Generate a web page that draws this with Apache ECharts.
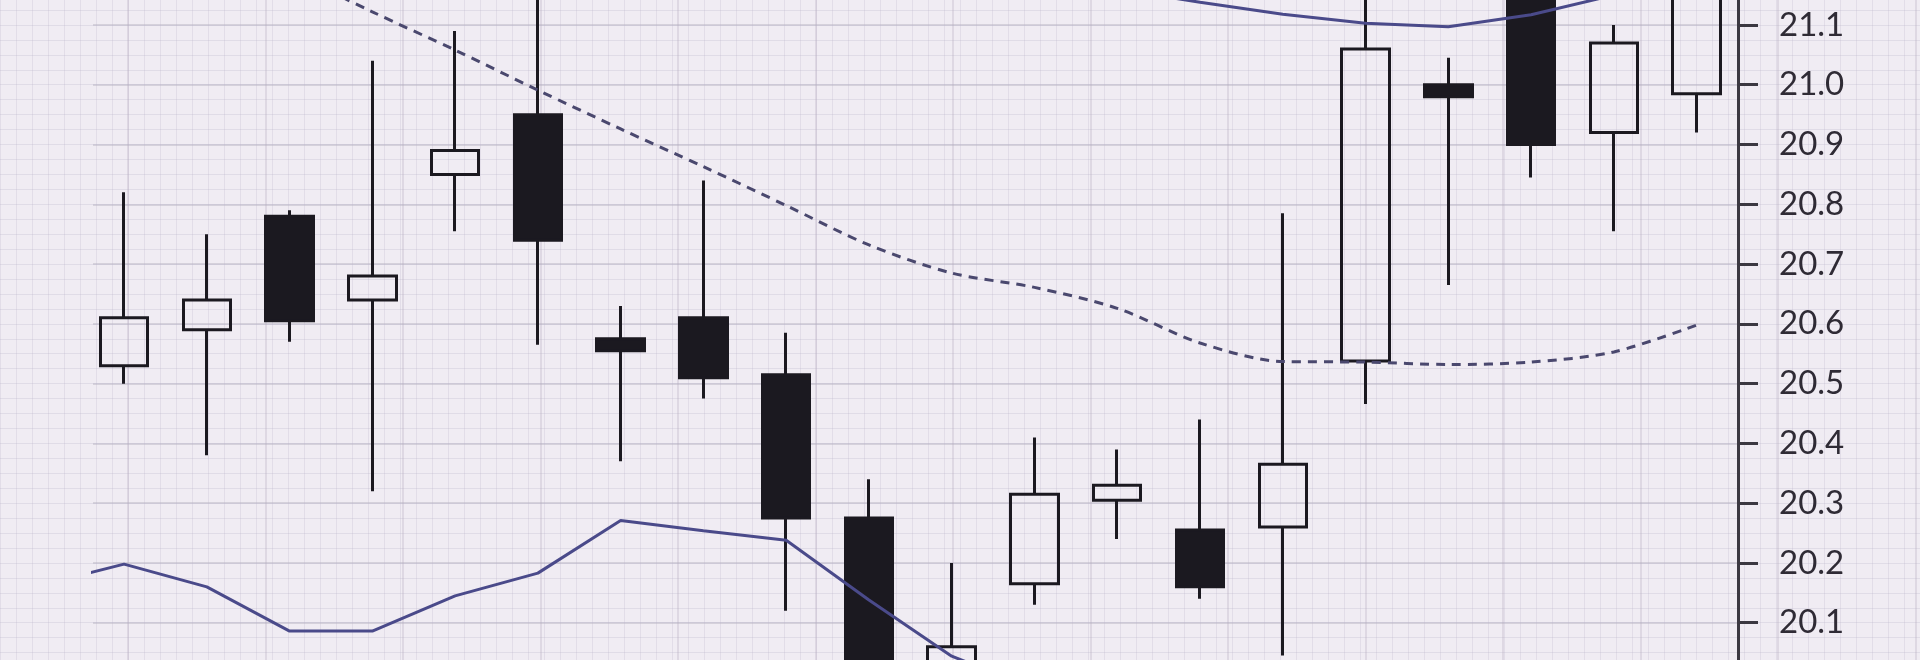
<!DOCTYPE html>
<html>
<head>
<meta charset="utf-8">
<script src="https://cdn.jsdelivr.net/npm/echarts@6/dist/echarts.min.js"></script>
<style>
html,body{margin:0;padding:0;background:#f0ecf3;}
#chart{width:1920px;height:660px;}
</style>
</head>
<body>
<div id="chart"></div>
<script>
// ---- data ----
const categories = ['D1','D2','D3','D4','D5','D6','D7','D8','D9','D10','D11','D12','D13','D14','D15','D16','D17','D18','D19','D20'];
const opens  = [20.53, 20.59, 20.78, 20.64, 20.85, 20.95, 20.575, 20.61, 20.515, 20.275, 19.98, 20.165, 20.305, 20.255, 20.26, 20.538, 21.00, 21.16, 20.92, 20.985];
const closes = [20.61, 20.64, 20.605, 20.68, 20.89, 20.74, 20.555, 20.51, 20.275, 19.98, 20.06, 20.315, 20.33, 20.16, 20.365, 21.06, 20.98, 20.90, 21.07, 21.20];
const lows   = [20.50, 20.38, 20.57, 20.32, 20.755, 20.565, 20.37, 20.475, 20.12, 19.92, 19.93, 20.13, 20.24, 20.14, 20.045, 20.466, 20.665, 20.845, 20.755, 20.92];
const highs  = [20.82, 20.75, 20.79, 21.04, 21.09, 21.22, 20.63, 20.84, 20.585, 20.34, 20.20, 20.41, 20.39, 20.44, 20.785, 21.18, 21.045, 21.22, 21.10, 21.25];

// band lines start one period before the first visible candle
const bandIndex  = [-1, 0, 1, 2, 3, 4, 5, 6, 7, 8, 9, 10, 11, 12, 13, 14, 15, 16, 17, 18, 19];
const upperBand  = [22.50, 22.46, 22.36, 22.29, 22.16, 21.97, 21.80, 21.58, 21.47, 21.36, 21.33, 21.33, 21.30, 21.16, 21.138, 21.118, 21.103, 21.097, 21.117, 21.15, 21.20];
const middleBand = [21.40, 21.33, 21.26, 21.19, 21.122, 21.058, 20.991, 20.926, 20.863, 20.798, 20.732, 20.685, 20.661, 20.626, 20.568, 20.537, 20.536, 20.532, 20.536, 20.553, 20.598];
const lowerBand  = [20.163, 20.198, 20.160, 20.086, 20.086, 20.145, 20.183, 20.271, 20.254, 20.238, 20.138, 20.044, 19.99, 19.98, 19.998, 19.956, 19.969, 19.967, 19.955, 19.956, 19.996];

const yTickLabels = ['20.0','20.1','20.2','20.3','20.4','20.5','20.6','20.7','20.8','20.9','21.0','21.1','21.2'];

// ---- chart ----
const yMin = parseFloat(yTickLabels[0]);
const yMax = parseFloat(yTickLabels[yTickLabels.length - 1]);

const candleData = categories.map((c, i) => [i, opens[i], closes[i], lows[i], highs[i]]);
const pair = arr => bandIndex.map((x, k) => [x, arr[k]]);

const chart = echarts.init(document.getElementById('chart'), null, {renderer: 'canvas'});
const hidden = {show: false};
const noLine = {show: false, onZero: false};
chart.setOption({
  backgroundColor: '#f0ecf3',
  animation: false,
  grid: [
    {left: 93, top: -34.8, width: 1645, height: 717.3, outerBoundsMode: 'none', containLabel: false},
    {left: 0, top: -34.8, width: 1920, height: 717.3, outerBoundsMode: 'none', containLabel: false},
    {left: -9.5, top: 0, width: 1925, height: 660, outerBoundsMode: 'none', containLabel: false}
  ],
  xAxis: [
    {type: 'value', gridIndex: 0, min: -0.375, max: 19.5, axisLine: noLine, axisTick: hidden, axisLabel: hidden, splitLine: hidden},
    {type: 'value', gridIndex: 1, min: 0, max: 1920, interval: 16, axisLine: noLine, axisTick: hidden, axisLabel: hidden,
      splitLine: {show: true, lineStyle: {color: 'rgba(190,182,204,0.27)', width: 1}}},
    {type: 'value', gridIndex: 2, min: 0, max: 14, interval: 1, axisLine: noLine, axisTick: hidden, axisLabel: hidden,
      splitLine: {show: true, lineStyle: {color: 'rgba(180,172,194,0.42)', width: 1.5}}}
  ],
  yAxis: [
    {
      type: 'value', gridIndex: 0, position: 'right', min: yMin, max: yMax, interval: 0.1,
      axisLine: {show: true, onZero: false, lineStyle: {color: '#3b3841', width: 3}},
      axisTick: {show: true, inside: false, length: 20, lineStyle: {color: '#3b3841', width: 3}},
      axisLabel: {
        show: true, margin: 41, color: '#2f2b35', fontSize: 33, fontFamily: 'Lato',
        formatter: v => yTickLabels[Math.round((v - yMin) / 0.1)]
      },
      splitLine: {show: true, lineStyle: {color: '#cdc8d3', width: 1.5}}
    },
    {type: 'value', gridIndex: 1, min: yMin, max: yMax, interval: 0.025, axisLine: noLine, axisTick: hidden, axisLabel: hidden,
      splitLine: {show: true, lineStyle: {color: 'rgba(190,182,204,0.3)', width: 1}}},
    {type: 'value', gridIndex: 2, min: 0, max: 1, axisLine: noLine, axisTick: hidden, axisLabel: hidden, splitLine: hidden}
  ],
  series: [
    {
      type: 'candlestick', xAxisIndex: 0, yAxisIndex: 0, z: 3,
      barWidth: 48,
      data: candleData,
      itemStyle: {
        color: 'transparent', color0: '#1b1920',
        borderColor: '#1b1920', borderColor0: '#1b1920', borderWidth: 3
      }
    },
    {
      type: 'line', name: 'upper', xAxisIndex: 0, yAxisIndex: 0, z: 4,
      data: pair(upperBand), symbol: 'none', smooth: false,
      lineStyle: {color: '#4a4a8a', width: 3}
    },
    {
      type: 'line', name: 'middle', xAxisIndex: 0, yAxisIndex: 0, z: 4,
      data: pair(middleBand), symbol: 'none', smooth: 0.3,
      lineStyle: {color: '#4a486e', width: 3, type: [9, 7]}
    },
    {
      type: 'line', name: 'lower', xAxisIndex: 0, yAxisIndex: 0, z: 4,
      data: pair(lowerBand), symbol: 'none', smooth: false,
      lineStyle: {color: '#4a4a8a', width: 3}
    }
  ]
});
</script>
</body>
</html>
